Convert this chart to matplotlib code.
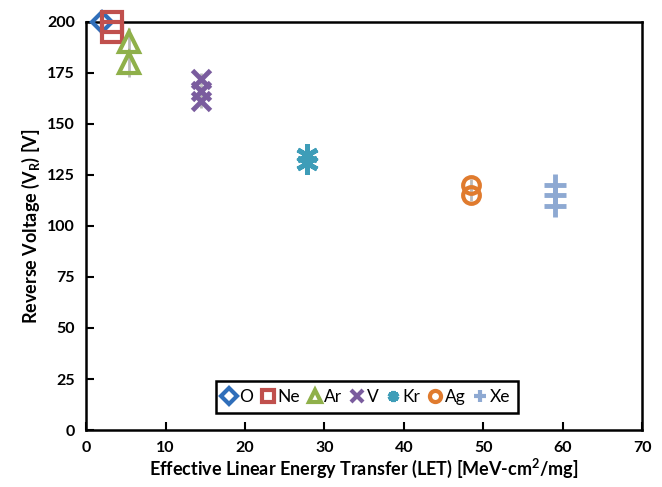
import matplotlib.pyplot as plt

plt.rcParams['font.family'] = ['Lato', 'DejaVu Sans']
plt.rcParams['mathtext.default'] = 'regular'

# ions, LET values and measured reverse voltages
ions = ["O", "Ne", "Ar", "V", "Kr", "Ag", "Xe"]
let_vals = {
    "O": [2.0],
    "Ne": [3.3, 3.3],
    "Ar": [5.4, 5.4],
    "V": [14.5, 14.5, 14.5],
    "Kr": [27.8, 27.8],
    "Ag": [48.4, 48.4],
    "Xe": [59.0, 59.0, 59.0],
}
vr_vals = {
    "O": [200],
    "Ne": [200, 195],
    "Ar": [190, 180],
    "V": [172, 166, 161],
    "Kr": [135, 131],
    "Ag": [120, 115],
    "Xe": [120, 115, 110],
}
vr_err = {"O": 0, "Ne": 0, "Ar": 7, "V": 3, "Kr": 5, "Ag": 3, "Xe": 0}

colors = {"O": "#2F6EBA", "Ne": "#C0504D", "Ar": "#8FB04A", "V": "#7A5C9E",
          "Kr": "#3E9DB8", "Ag": "#E07B2E", "Xe": "#8EA9D2"}
markers = {"O": "D", "Ne": "s", "Ar": "^", "V": "x", "Kr": (6, 2, 0),
           "Ag": "o", "Xe": "+"}
sizes = {"O": 10, "Ne": 14, "Ar": 15, "V": 13, "Kr": 16, "Ag": 12, "Xe": 16}

fig = plt.figure(figsize=(6.62, 4.87), dpi=100)
ax = fig.add_axes([0.130, 0.117, 0.840, 0.838])

for ion in ions:
    c = colors[ion]
    if vr_err[ion]:
        ax.errorbar(let_vals[ion], vr_vals[ion], yerr=vr_err[ion], fmt="none",
                    ecolor="#BBBBBB", elinewidth=2, capsize=0, zorder=2)
    m = markers[ion]
    filled = m in ("x", "+") or isinstance(m, tuple)
    ax.plot(let_vals[ion], vr_vals[ion], linestyle="none", marker=m,
            markersize=sizes[ion],
            markerfacecolor=c if filled else "none",
            markeredgecolor=c, markeredgewidth=3 if not filled else 3.5,
            clip_on=False, zorder=3)
    # legend proxy (smaller, solid markers like the spreadsheet legend)
    ax.plot([], [], linestyle="none", marker=m, markersize=8,
            markerfacecolor=c if filled else "white", markeredgecolor=c,
            markeredgewidth=3, label=ion)

ax.set_xlim(0, 70)
ax.set_ylim(0, 200)
ax.set_xticks(range(0, 71, 10))
ax.set_yticks(range(0, 201, 25))
ax.tick_params(direction="in", length=6, width=1.5, labelsize=11.5, pad=8)
for lbl in ax.get_xticklabels() + ax.get_yticklabels():
    lbl.set_fontweight("bold")
for s in ax.spines.values():
    s.set_linewidth(1.8)

ax.set_xlabel("Effective Linear Energy Transfer (LET) [MeV-cm$^{2}$/mg]",
              fontsize=13, fontweight="bold", labelpad=1)
ax.set_ylabel("Reverse Voltage (V$_{R}$) [V]", fontsize=13,
              fontweight="bold", labelpad=4)

leg = ax.legend(loc="lower center", bbox_to_anchor=(0.505, 0.042), ncol=7,
                fontsize=12.5, handlelength=0.7, handletextpad=0.2,
                columnspacing=0.5, borderpad=0.45, borderaxespad=0,
                fancybox=False, edgecolor="black", framealpha=1)
leg.get_frame().set_linewidth(1.8)

fig.savefig("out.png", dpi=100)
